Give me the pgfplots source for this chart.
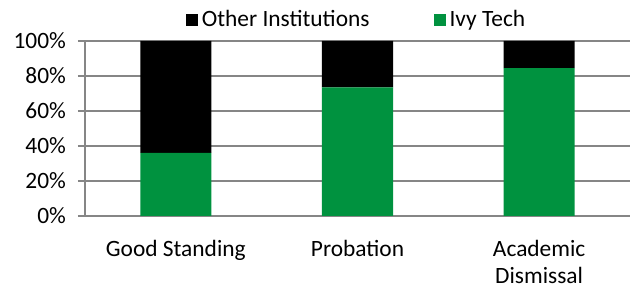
\documentclass[border=0pt]{standalone}
\usepackage{fontspec}
\setmainfont{Carlito}
\usepackage{pgfplots}
\pgfplotsset{compat=1.18}
\definecolor{ivy}{RGB}{0,146,63}
\definecolor{gridgray}{RGB}{134,134,134}
\begin{document}
\begin{tikzpicture}
\begin{axis}[
  name=ax,
  scale only axis,
  width=272.5pt, height=87.5pt,
  ybar stacked,
  bar width=35.5pt,
  xmin=-0.5, xmax=2.5,
  ymin=0, ymax=100,
  xtick=data,
  xticklabels={Good Standing, Probation, {Academic\\Dismissal}},
  xticklabel style={align=center, yshift=-5pt, font=\fontsize{11.7}{13.5}\selectfont},
  x tick style={draw=none},
  ytick={0,20,40,60,80,100},
  yticklabel={\pgfmathprintnumber{\tick}\%},
  yticklabel style={font=\fontsize{11.7}{13.5}\selectfont, xshift=-2.5pt},
  /pgf/number format/assume math mode=true,
  ymajorgrids,
  grid style={gridgray, line width=0.6pt},
  axis x line*=bottom,
  axis y line*=left,
  axis line style={gridgray, line width=0.8pt},
  y tick style={gridgray, line width=0.6pt},
  tick align=outside,
  major tick length=3.5pt,
  separate axis lines,
  every outer x axis line/.append style={-},
  every outer y axis line/.append style={-},
  legend style={at={(0.5,1)}, anchor=south, yshift=1.5pt, draw=none, fill=none,
    legend columns=2, font=\fontsize{11.7}{13.5}\selectfont,
    /tikz/every even column/.append style={column sep=30pt}},
  legend image code/.code={\fill[#1] (0cm,-0.1cm) rectangle (0.21cm,0.11cm);},
  reverse legend,
]
\addplot[fill=ivy, draw=none] coordinates {(0,36) (1,73.5) (2,84.5)};
\addplot[fill=black, draw=none] coordinates {(0,64) (1,26.5) (2,15.5)};
\legend{Ivy Tech, Other Institutions}
\end{axis}
\path[use as bounding box] (ax.south west) ++(-42.5pt,-35pt) rectangle ++(316pt,143pt);
\end{tikzpicture}
\end{document}
